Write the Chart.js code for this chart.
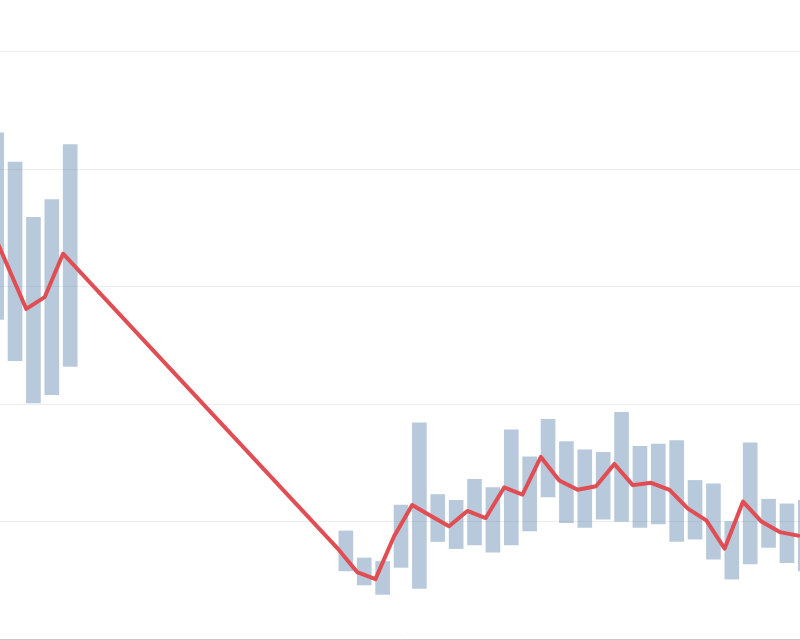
<!DOCTYPE html>
<html>
<head>
<meta charset="utf-8">
<script src="https://cdn.jsdelivr.net/npm/chart.js@4/dist/chart.umd.min.js"></script>
<style>
    html, body { margin: 0; padding: 0; background: #fff; }
    #wrap { width: 800px; height: 640px; }
</style>
</head>
<body>
<div id="wrap"><canvas id="range-chart"></canvas></div>
<script>
// day index of each observation (gap between day 3 and day 18)
const days = [-1, 0, 1, 2, 3,
    18, 19, 20, 21, 22, 23, 24, 25, 26, 27, 28, 29, 30,
    31, 32, 33, 34, 35, 36, 37, 38, 39, 40, 41, 42, 43];

// daily range (low / high)
const lows = [27.2, 23.7, 20.1, 20.8, 23.2,
    5.8, 4.6, 3.8, 6.1, 4.3, 8.3, 7.7, 8.0, 7.4, 8.0, 9.2, 12.1, 9.9,
    9.5, 10.2, 10.0, 9.5, 9.8, 8.3, 8.5, 6.8, 5.1, 6.4, 7.8, 6.5, 5.8];
const highs = [43.1, 40.6, 35.9, 37.4, 42.1,
    9.2, 6.9, 6.6, 11.4, 18.4, 12.3, 11.8, 13.6, 12.9, 17.8, 15.5, 18.7, 16.8,
    16.1, 15.9, 19.3, 16.4, 16.6, 16.9, 13.5, 13.2, 10.0, 16.7, 11.9, 11.5, 11.8];

// red line values
const lineValues = [35.3, 31.7, 28.1, 29.1, 32.8,
    7.6, 5.7, 5.1, 8.7, 11.4, 10.5, 9.6, 10.9, 10.3, 12.9, 12.3, 15.5, 13.5,
    12.7, 13.0, 14.9, 13.1, 13.3, 12.7, 11.1, 10.1, 7.7, 11.7, 10.0, 9.1, 8.8];

const BAR_SHIFT = 0.39;   // bars start at the line point and extend to the right

const canvas = document.getElementById('range-chart');

new Chart(canvas, {
    type: 'bar',
    data: {
        datasets: [
            {
                type: 'line',
                label: 'Valore',
                data: days.map((d, i) => ({ x: d, y: lineValues[i] })),
                borderColor: '#e04d53',
                borderWidth: 4,
                borderJoinStyle: 'round',
                borderCapStyle: 'round',
                pointRadius: 0,
                tension: 0,
                fill: false,
                order: 0
            },
            {
                type: 'bar',
                label: 'Intervallo',
                data: days.map((d, i) => ({ x: d + BAR_SHIFT, y: [lows[i], highs[i]] })),
                backgroundColor: 'rgba(78, 121, 167, 0.4)',
                borderWidth: 0,
                barThickness: 14,
                order: 1
            }
        ]
    },
    options: {
        responsive: true,
        maintainAspectRatio: false,
        animation: false,
        layout: {
            padding: { left: 0, right: 0, top: 0, bottom: 1 }
        },
        plugins: {
            legend: { display: false },
            tooltip: { enabled: false }
        },
        scales: {
            x: {
                type: 'linear',
                offset: false,
                min: -0.43,
                max: 43.1,
                ticks: { display: false },
                grid: { display: false, drawTicks: false },
                border: { display: true, color: '#c8c8c8', width: 1 }
            },
            y: {
                min: 0,
                max: 54.4,
                ticks: { display: false, stepSize: 10 },
                grid: {
                    drawTicks: false,
                    lineWidth: 1,
                    color: (ctx) => {
                        const v = ctx.tick ? ctx.tick.value : 0;
                        return (v > 0 && v % 10 === 0) ? 'rgba(0, 0, 0, 0.07)' : 'rgba(0, 0, 0, 0)';
                    }
                },
                border: { display: false }
            }
        }
    }
});
</script>
</body>
</html>
